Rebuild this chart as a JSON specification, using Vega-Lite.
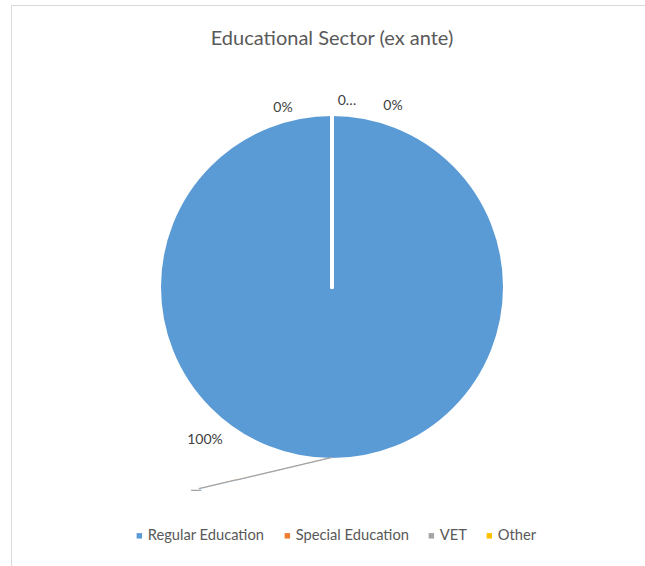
{
  "$schema": "https://vega.github.io/schema/vega-lite/v6.json",
  "width": 645,
  "height": 566,
  "autosize": {"type": "fit", "contains": "padding"},
  "padding": {"left": 11, "top": 5, "right": -8, "bottom": -3},
  "background": "white",
  "view": {"stroke": "#d9d9d9", "strokeWidth": 1},
  "config": {
    "view": {"stroke": "#d9d9d9", "strokeWidth": 1},
    "font": "Lato"
  },
  "title": {
    "text": "Educational Sector (ex ante)",
    "font": "Lato",
    "fontSize": 20,
    "fontWeight": "normal",
    "color": "#595959",
    "anchor": "middle",
    "frame": "group",
    "baseline": "alphabetic",
    "offset": -60
  },
  "data": {
    "values": [
      {"sector": "Regular Education", "value": 100, "label": "100%"},
      {"sector": "Special Education", "value": 0, "label": "0%"},
      {"sector": "VET", "value": 0, "label": "0…"},
      {"sector": "Other", "value": 0, "label": "0%"}
    ]
  },
  "layer": [
    {
      "mark": {"type": "arc", "outerRadius": 173, "stroke": "white", "strokeWidth": 4, "strokeJoin": "round"},
      "encoding": {
        "theta": {"field": "value", "type": "quantitative", "stack": true},
        "color": {
          "field": "sector",
          "type": "nominal",
          "sort": null,
          "scale": {
            "domain": ["Regular Education", "Special Education", "VET", "Other"],
            "range": ["#5B9BD5", "#ED7D31", "#A5A5A5", "#FFC000"]
          },
          "legend": {
            "title": null,
            "orient": "none",
            "direction": "horizontal",
            "legendX": 121,
            "legendY": 523,
            "symbolType": "square",
            "symbolSize": 30,
            "symbolStrokeWidth": 0,
            "labelFont": "Lato",
            "labelFontSize": 14.7,
            "labelColor": "#595959",
            "labelOffset": 1,
            "columnPadding": 15,
            "padding": 0
          }
        }
      }
    },
    {
      "transform": [{"filter": "datum.sector === 'Special Education'"}],
      "mark": {"type": "text", "radius": 180, "dx": -49, "dy": 1, "fontSize": 14, "font": "Lato", "color": "#404040", "baseline": "middle", "align": "center"},
      "encoding": {"theta": {"field": "value", "type": "quantitative", "stack": true}, "text": {"field": "label"}}
    },
    {
      "transform": [{"filter": "datum.sector === 'VET'"}],
      "mark": {"type": "text", "radius": 180, "dx": 15, "dy": -6, "fontSize": 14, "font": "Lato", "color": "#404040", "baseline": "middle", "align": "center"},
      "encoding": {"theta": {"field": "value", "type": "quantitative", "stack": true}, "text": {"field": "label"}}
    },
    {
      "transform": [{"filter": "datum.sector === 'Other'"}],
      "mark": {"type": "text", "radius": 180, "dx": 61, "dy": -1, "fontSize": 14, "font": "Lato", "color": "#404040", "baseline": "middle", "align": "center"},
      "encoding": {"theta": {"field": "value", "type": "quantitative", "stack": true}, "text": {"field": "label"}}
    },
    {
      "transform": [{"filter": "datum.sector === 'Regular Education'"}],
      "mark": {"type": "text", "radius": 180, "dx": -127, "dy": -27, "fontSize": 14, "font": "Lato", "color": "#404040", "baseline": "middle", "align": "center"},
      "encoding": {"theta": {"field": "value", "type": "quantitative", "stack": true}, "text": {"field": "label"}}
    },
    {
      "transform": [{"filter": "datum.sector === 'Regular Education'"}],
      "mark": {"type": "text", "radius": 171, "angle": 346.8, "fontSize": 16.2, "font": "DejaVu Sans Mono", "color": "#A5A5A5", "baseline": "middle", "align": "right"},
      "encoding": {"theta": {"field": "value", "type": "quantitative", "stack": true}, "text": {"value": "──────────────"}}
    },
    {
      "transform": [{"filter": "datum.sector === 'Regular Education'"}],
      "mark": {"type": "text", "radius": 171, "dx": -131, "dy": 33, "fontSize": 16.2, "font": "DejaVu Sans Mono", "color": "#A5A5A5", "baseline": "middle", "align": "right"},
      "encoding": {"theta": {"field": "value", "type": "quantitative", "stack": true}, "text": {"value": "─"}}
    }
  ]
}
